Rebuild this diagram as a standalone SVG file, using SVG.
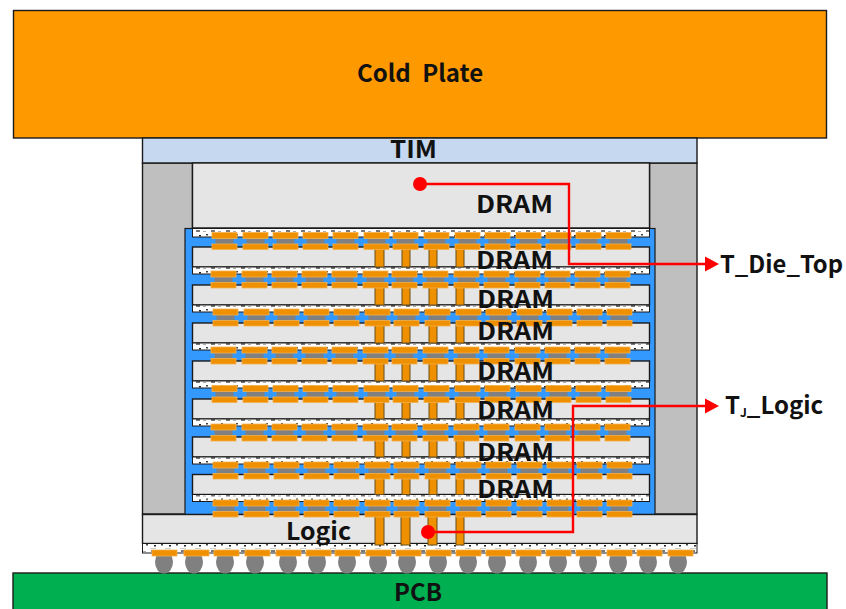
<svg xmlns="http://www.w3.org/2000/svg" xmlns:xlink="http://www.w3.org/1999/xlink" width="846" height="609" viewBox="0 0 846 609">
<style>
.o{stroke:#1a1a1a;stroke-width:1.4}
.die{fill:#e5e5e5;stroke:#1a1a1a;stroke-width:1.4}
.pad{fill:#ee9000;stroke:#f5b04a;stroke-width:.8}
.core{fill:#808080}
.via{fill:#ee9000;stroke:#6b4e1c;stroke-width:1}
.ball{fill:#808080}
.t{font-family:"Noto Sans CJK KR","Noto Sans",sans-serif;font-weight:700;font-size:24px;fill:#111}
.wire{fill:none;stroke:#ff0000;stroke-width:2.4}
</style>
<defs>
<pattern id="sp" width="15" height="10" patternUnits="userSpaceOnUse">
<rect width="15" height="10" fill="#fff"/>
<rect x="1" y="0" width="4" height="2" fill="#777"/>
<rect x="8" y="1" width="3" height="1" fill="#aaa"/>
<rect x="4" y="5" width="2" height="1.500" fill="#222"/>
<rect x="11" y="4" width="2" height="1.500" fill="#444"/>
<rect x="0" y="8" width="6" height="1" fill="#ccc"/>
</pattern>
<marker id="ah" markerUnits="userSpaceOnUse" markerWidth="15" markerHeight="18" refX="0" refY="9" orient="auto"><path d="M0 1.500L14 9L0 16.500Z" fill="#ff0000"/></marker>
<g id="b"><rect class="core" x="3.500" y="5" width="18" height="7"/><rect class="pad" x="0" y="0" width="25" height="6"/><rect class="pad" x="0" y="11.500" width="25" height="5.500"/></g>
<g id="row">
<use xlink:href="#b" x="212"/><use xlink:href="#b" x="243"/><use xlink:href="#b" x="273"/><use xlink:href="#b" x="303"/><use xlink:href="#b" x="333"/><use xlink:href="#b" x="364"/><use xlink:href="#b" x="393"/><use xlink:href="#b" x="424"/><use xlink:href="#b" x="455"/><use xlink:href="#b" x="485"/><use xlink:href="#b" x="516"/><use xlink:href="#b" x="546"/><use xlink:href="#b" x="576"/><use xlink:href="#b" x="606"/>
</g>
<g id="vias"><rect class="via" x="375" y="0" width="9" height="20"/><rect class="via" x="402" y="0" width="8" height="20"/><rect class="via" x="429" y="0" width="8" height="20"/><rect class="via" x="456" y="0" width="8" height="20"/></g>
<g id="layer"><rect class="die" x="192.500" y="0" width="457" height="20"/><rect x="192.500" y="20" width="457" height="7" fill="url(#sp)" stroke="#1a1a1a" stroke-width="1"/><use xlink:href="#vias"/></g>
</defs>

<g id="pcb"><rect class="o" x="13" y="573" width="814" height="40" fill="#00b050"/><text class="t" x="394" y="601" textLength="48" lengthAdjust="spacingAndGlyphs">PCB</text></g>
<g id="balls">
<ellipse class="ball" cx="164" cy="562" rx="9" ry="11.500"/><ellipse class="ball" cx="194" cy="562" rx="9" ry="11.500"/><ellipse class="ball" cx="225" cy="562" rx="9" ry="11.500"/><ellipse class="ball" cx="255" cy="562" rx="9" ry="11.500"/><ellipse class="ball" cx="288" cy="562" rx="9" ry="11.500"/><ellipse class="ball" cx="317" cy="562" rx="9" ry="11.500"/><ellipse class="ball" cx="347" cy="562" rx="9" ry="11.500"/><ellipse class="ball" cx="378" cy="562" rx="9" ry="11.500"/><ellipse class="ball" cx="407" cy="562" rx="9" ry="11.500"/><ellipse class="ball" cx="438" cy="562" rx="9" ry="11.500"/><ellipse class="ball" cx="468" cy="562" rx="9" ry="11.500"/><ellipse class="ball" cx="497" cy="562" rx="9" ry="11.500"/><ellipse class="ball" cx="528" cy="562" rx="9" ry="11.500"/><ellipse class="ball" cx="558" cy="562" rx="9" ry="11.500"/><ellipse class="ball" cx="588" cy="562" rx="9" ry="11.500"/><ellipse class="ball" cx="618" cy="562" rx="9" ry="11.500"/><ellipse class="ball" cx="648" cy="562" rx="9" ry="11.500"/><ellipse class="ball" cx="678" cy="562" rx="9" ry="11.500"/>
</g>
<g id="cold-plate"><rect class="o" x="13.500" y="10.500" width="813" height="127.500" fill="#ff9900"/><text class="t" x="357" y="82" word-spacing="6">Cold Plate</text></g>
<g id="walls"><rect class="o" x="142.500" y="163" width="50" height="351" fill="#bfbfbf"/><rect class="o" x="649.500" y="163" width="47.500" height="351" fill="#bfbfbf"/></g>
<g id="tim"><rect class="o" x="142.500" y="138" width="554.500" height="25" fill="#c5d8ef"/><text class="t" x="390" y="158" textLength="47" lengthAdjust="spacingAndGlyphs">TIM</text></g>
<g id="dram-top"><rect class="die" x="192.500" y="163" width="457" height="65"/><text class="t" x="476" y="213" textLength="77" lengthAdjust="spacingAndGlyphs">DRAM</text></g>
<g id="underfill"><rect x="185" y="228.500" width="470" height="286" fill="#3399ff" stroke="#1a1a1a" stroke-width="1.200"/></g>
<g id="dram-stack">
<rect x="192.500" y="228.500" width="457" height="8.500" fill="url(#sp)" stroke="#1a1a1a" stroke-width="1"/>
<use xlink:href="#layer" y="247"/><use xlink:href="#layer" y="285"/><use xlink:href="#layer" y="323"/><use xlink:href="#layer" y="361"/><use xlink:href="#layer" y="399"/><use xlink:href="#layer" y="437"/><use xlink:href="#layer" y="474.500"/>
</g>
<g id="logic"><rect class="die" x="142.500" y="514.500" width="554.500" height="29"/><rect x="142.500" y="543.500" width="554.500" height="9.500" fill="url(#sp)" stroke="#1a1a1a" stroke-width="1"/>
<rect class="via" x="375" y="516" width="9" height="29"/><rect class="via" x="401" y="516" width="9" height="29"/><rect class="via" x="428" y="516" width="9" height="29"/><rect class="via" x="456" y="516" width="8" height="29"/></g>
<g id="bumps">
<use xlink:href="#row" y="232.500"/><use xlink:href="#row" x="-1" y="271"/><use xlink:href="#row" x="1" y="309"/><use xlink:href="#row" x="-1" y="347"/><use xlink:href="#row" y="385.500"/><use xlink:href="#row" x="-1" y="424"/><use xlink:href="#row" x="1" y="462"/><use xlink:href="#row" x="1" y="500"/>
</g>
<g id="ball-pads">
<rect class="pad" x="152" y="550" width="25" height="6"/><rect class="pad" x="184" y="550" width="25" height="6"/><rect class="pad" x="214" y="550" width="25" height="6"/><rect class="pad" x="245" y="550" width="25" height="6"/><rect class="pad" x="276" y="550" width="25" height="6"/><rect class="pad" x="306" y="550" width="25" height="6"/><rect class="pad" x="335" y="550" width="25" height="6"/><rect class="pad" x="366" y="550" width="25" height="6"/><rect class="pad" x="396" y="550" width="25" height="6"/><rect class="pad" x="426" y="550" width="25" height="6"/><rect class="pad" x="456" y="550" width="25" height="6"/><rect class="pad" x="486" y="550" width="25" height="6"/><rect class="pad" x="516" y="550" width="25" height="6"/><rect class="pad" x="546" y="550" width="25" height="6"/><rect class="pad" x="576" y="550" width="25" height="6"/><rect class="pad" x="607" y="550" width="25" height="6"/><rect class="pad" x="637" y="550" width="25" height="6"/><rect class="pad" x="668" y="550" width="25" height="6"/>
</g>
<g id="labels">
<text class="t" x="476" y="269" textLength="77" lengthAdjust="spacingAndGlyphs">DRAM</text><text class="t" x="477" y="308" textLength="77" lengthAdjust="spacingAndGlyphs">DRAM</text><text class="t" x="477" y="340" textLength="77" lengthAdjust="spacingAndGlyphs">DRAM</text><text class="t" x="477" y="380" textLength="77" lengthAdjust="spacingAndGlyphs">DRAM</text><text class="t" x="477" y="419" textLength="77" lengthAdjust="spacingAndGlyphs">DRAM</text><text class="t" x="477" y="461" textLength="77" lengthAdjust="spacingAndGlyphs">DRAM</text><text class="t" x="477" y="498" textLength="77" lengthAdjust="spacingAndGlyphs">DRAM</text>
<text class="t" x="286" y="540" textLength="65" lengthAdjust="spacingAndGlyphs">Logic</text>
</g>
<g id="connectors">
<circle cx="420" cy="184" r="7" fill="#ff0000"/><path class="wire" d="M420 184H569V264H705" marker-end="url(#ah)"/>
<circle cx="428" cy="532" r="7" fill="#ff0000"/><path class="wire" d="M428 532H573V406H705" marker-end="url(#ah)"/>
</g>
<g id="t-die-top"><text class="t" x="720" y="273" textLength="123" lengthAdjust="spacingAndGlyphs">T_Die_Top</text></g>
<g id="tj-logic"><text class="t" x="725" y="414">T<tspan style="font-size:12px" dy="3">J</tspan><tspan dy="-3">_Logic</tspan></text></g>
</svg>
